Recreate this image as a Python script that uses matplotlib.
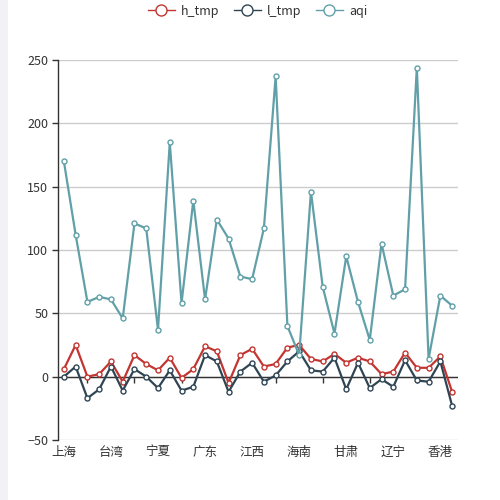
import matplotlib
matplotlib.use("Agg")
import matplotlib.pyplot as plt
from matplotlib.patches import Rectangle

plt.rcParams['font.family'] = ['Noto Sans CJK SC', 'DejaVu Sans']

provinces = ['上海', '云南', '内蒙古', '北京', '台湾', '吉林', '四川', '天津', '宁夏', '安徽',
             '山东', '山西', '广东', '广西', '新疆', '江苏', '江西', '河北', '河南', '浙江',
             '海南', '湖北', '湖南', '澳门', '甘肃', '福建', '西藏', '贵州', '辽宁', '重庆',
             '陕西', '青海', '香港', '黑龙江']
h_tmp = [6, 25, 0, 2, 12, -4, 17, 10, 5, 15, -1, 6, 24, 20, -5, 17, 22, 8, 10, 23,
         25, 14, 12, 18, 11, 15, 12, 2, 4, 19, 7, 7, 16, -12]
l_tmp = [0, 8, -17, -10, 8, -11, 6, 0, -9, 5, -11, -8, 17, 12, -12, 4, 11, -4, 1, 12,
         20, 5, 4, 15, -10, 11, -9, -2, -8, 13, -3, -4, 12, -23]
aqi = [170, 112, 59, 63, 61, 46, 121, 117, 37, 185, 58, 139, 61, 124, 109, 79, 77, 117, 237, 40,
       17, 146, 71, 34, 95, 59, 29, 105, 64, 69, 244, 14, 64, 56]
series_names = ['h_tmp', 'l_tmp', 'aqi']
colors = ['#c23531', '#2f4554', '#61a0a8']

fig = plt.figure(figsize=(5, 5), dpi=100)
fig.patches.append(Rectangle((0, 0), 8 / 500, 1, transform=fig.transFigure,
                             facecolor='#f1f1f6', edgecolor='none', zorder=0))
ax = fig.add_axes([0.116, 0.12, 0.8, 0.76])

x = list(range(len(provinces)))
for name, vals, c in zip(series_names, [h_tmp, l_tmp, aqi], colors):
    ax.plot(x, vals, color=c, lw=1.6, marker='o', markersize=3.6,
            markerfacecolor='white', markeredgecolor=c, markeredgewidth=1.0,
            label=name, zorder=3)

ax.set_xlim(-0.5, len(provinces) - 0.5)
ax.set_ylim(-50, 250)
ax.set_yticks([-50, 0, 50, 100, 150, 200, 250])
ax.yaxis.grid(True, color='#cccccc', lw=1)
ax.set_axisbelow(True)
for s in ['top', 'right', 'bottom']:
    ax.spines[s].set_visible(False)
ax.spines['left'].set_color('#333333')
ax.spines['left'].set_linewidth(1)
ax.tick_params(axis='y', length=4, width=1, color='#333333', labelsize=9,
               labelcolor='#333333', pad=3)
ax.set_xticks(x[::4])
ax.set_xticklabels(provinces[::4])
ax.tick_params(axis='x', length=0, labelsize=9, labelcolor='#333333', pad=4)

# zero axis line with ticks
ax.axhline(0, color='#333333', lw=1, zorder=2)
sec = ax.secondary_xaxis(50 / 300)
sec.spines['bottom'].set_visible(False)
sec.set_xticks(x[2::4])
sec.set_xticklabels([])
sec.tick_params(axis='x', length=4, width=1, color='#333333')

leg = ax.legend(loc='center', bbox_to_anchor=(0.515, 0.978), bbox_transform=fig.transFigure,
                ncol=3, frameon=False, fontsize=9, handlelength=2.2, handletextpad=0.5,
                columnspacing=1.1, labelcolor='#333333', markerscale=2.2)
for ln in leg.get_lines():
    ln.set_linewidth(1.0)

fig.savefig('out.png', dpi=100)
